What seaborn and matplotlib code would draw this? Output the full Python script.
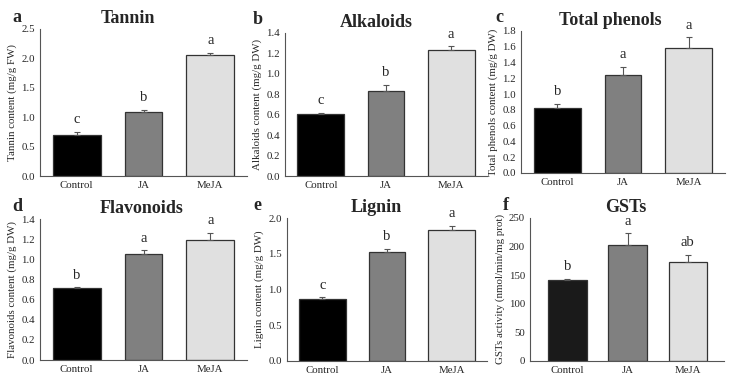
import numpy as np
import pandas as pd
import matplotlib
matplotlib.use("Agg")
import matplotlib.pyplot as plt
import seaborn as sns

treatments = ["Control", "JA", "MeJA"]

tannin = [0.70, 1.09, 2.05]
tannin_err = [0.05, 0.03, 0.05]
alkaloids = [0.61, 0.83, 1.23]
alkaloids_err = [0.01, 0.06, 0.04]
phenols = [0.82, 1.24, 1.58]
phenols_err = [0.06, 0.11, 0.14]
flavonoids = [0.71, 1.05, 1.19]
flavonoids_err = [0.01, 0.04, 0.07]
lignin = [0.87, 1.53, 1.83]
lignin_err = [0.02, 0.04, 0.06]
gsts = [142, 203, 173]
gsts_err = [2, 20, 13]

sig_a = ["c", "b", "a"]
sig_b = ["c", "b", "a"]
sig_c = ["b", "a", "a"]
sig_d = ["b", "a", "a"]
sig_e = ["c", "b", "a"]
sig_f = ["b", "a", "ab"]

sns.set_style("white")
plt.rcParams["font.family"] = ["Liberation Serif", "DejaVu Serif"]

W, H = 733, 381
fig = plt.figure(figsize=(W / 100, H / 100), dpi=100)

# letter, title, ylabel, values, errors, sig, ymax, step, px box (left, top, right, bottom), title x
panels = [
    ("a", "Tannin", "Tannin content (mg/g FW)", tannin, tannin_err, sig_a, 2.5, 0.5, (40, 29, 247, 176), 128),
    ("b", "Alkaloids", "Alkaloids content (mg/g DW)", alkaloids, alkaloids_err, sig_b, 1.4, 0.2, (285, 33, 487, 176), 376),
    ("c", "Total phenols", "Total phenols content (mg/g DW)", phenols, phenols_err, sig_c, 1.8, 0.2, (521, 31, 725, 173), 610),
    ("d", "Flavonoids", "Flavonoids content (mg/g DW)", flavonoids, flavonoids_err, sig_d, 1.4, 0.2, (40, 219, 247, 360), 142),
    ("e", "Lignin", "Lignin content (mg/g DW)", lignin, lignin_err, sig_e, 2.0, 0.5, (287, 218, 487, 361), 376),
    ("f", "GSTs", "GSTs activity (nmol/min/mg prot)", gsts, gsts_err, sig_f, 250, 50, (530, 218, 724, 361), 626),
]
letter_pos = {"a": (12, 22), "b": (253, 24), "c": (495, 22), "d": (12, 211), "e": (253, 210), "f": (503, 210)}

for letter, title, ylabel, vals, errs, sig, ymax, step, box, tx in panels:
    l, t, r, b = box
    ax = fig.add_axes([l / W, 1 - b / H, (r - l) / W, (b - t) / H])
    df = pd.DataFrame({"treatment": treatments, "value": vals})
    ctrl = "#1a1a1a" if letter == "f" else "#000000"
    bw = 0.64 if letter == "f" else 0.72
    sns.barplot(data=df, x="treatment", y="value", hue="treatment", ax=ax, width=bw,
                palette=[ctrl, "#808080", "#e0e0e0"], edgecolor="#333333", linewidth=0.9,
                legend=False, errorbar=None)
    if letter != "f":
        # JA bar is drawn narrower in the original
        p = ax.patches[1]
        c = p.get_x() + p.get_width() / 2
        p.set_width(0.56)
        p.set_x(c - 0.28)
    ax.errorbar(range(3), vals, yerr=[[0] * 3, errs], fmt="none", ecolor="#555555",
                elinewidth=0.8, capsize=2.5, capthick=0.8)
    for i, s in enumerate(sig):
        ax.text(i, vals[i] + errs[i] + ymax * 0.04, s, ha="center", va="bottom", fontsize=10.5)
    if letter == "f":
        ax.set_xlim(-0.62, 2.6)
    else:
        ax.set_xlim(-0.55, 2.55)
    ax.set_ylim(0, ymax)
    ticks = np.arange(0, ymax + step / 2, step)
    ax.set_yticks(ticks)
    if step >= 1:
        ax.set_yticklabels([f"{v:.0f}" for v in ticks])
    else:
        ax.set_yticklabels([f"{v:.1f}" for v in ticks])
    ax.set_xlabel("")
    ax.set_ylabel(ylabel, fontsize=7.8, labelpad=3)
    ax.tick_params(axis="both", labelsize=7.8, length=2, width=0.7, color="#555555", pad=1.5, direction="out")
    ax.tick_params(axis="x", length=1.5, pad=2)
    for side in ["top", "right"]:
        ax.spines[side].set_visible(False)
    for side in ["left", "bottom"]:
        ax.spines[side].set_color("#555555")
        ax.spines[side].set_linewidth(0.8)
    fig.text(tx / W, 1 - (t - 2) / H, title, ha="center", va="bottom", fontsize=13, fontweight="bold")
    lx, ly = letter_pos[letter]
    fig.text(lx / W, 1 - ly / H, letter, ha="left", va="baseline", fontsize=13, fontweight="bold")

fig.savefig("out.png", dpi=100)
